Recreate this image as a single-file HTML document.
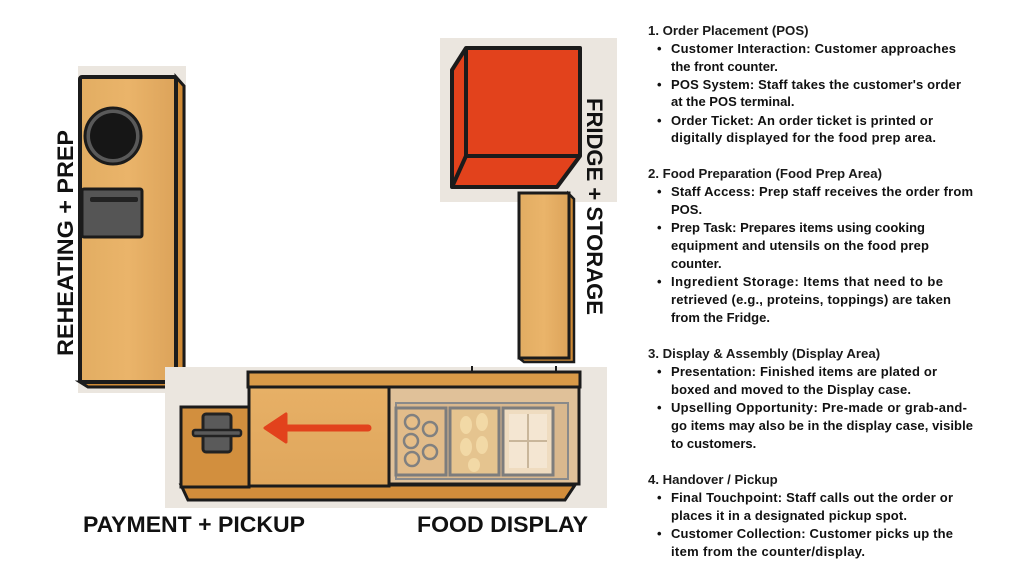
<!DOCTYPE html>
<html><head><meta charset="utf-8"><style>
html,body{margin:0;padding:0;background:#fff;}
svg{display:block;}
text{font-family:"Liberation Sans",sans-serif;fill:#111;}
.h{font-size:13.2px;font-weight:bold;fill:#1a1a1a;}
.b{font-size:13px;font-weight:bold;}
.lbl{font-size:22.5px;font-weight:bold;}
</style></head><body>
<svg width="1024" height="576" viewBox="0 0 1024 576" xmlns="http://www.w3.org/2000/svg">
<defs>
<linearGradient id="wood" x1="0" x2="1" y1="0" y2="0">
<stop offset="0" stop-color="#e2ad62"/><stop offset="0.5" stop-color="#eab46a"/><stop offset="1" stop-color="#dca35a"/>
</linearGradient>
<linearGradient id="woodh" x1="0" x2="0" y1="0" y2="1">
<stop offset="0" stop-color="#e7b066"/><stop offset="1" stop-color="#dfa65c"/>
</linearGradient>
</defs>
<!-- left cabinet -->
<rect x="78" y="66" width="108" height="327" fill="#ebe6df"/>
<polygon points="176,77 184,86 184,387 176,387" fill="#cf8a35" stroke="#1b1b1b" stroke-width="3"/>
<polygon points="80,382 176,382 184,387 88,387" fill="#cf8a35" stroke="#1b1b1b" stroke-width="3"/>
<rect x="80" y="77" width="96" height="305" fill="url(#wood)" stroke="#1b1b1b" stroke-width="4" rx="2"/>
<circle cx="113" cy="136" r="28" fill="#595959" stroke="#1b1b1b" stroke-width="3"/>
<circle cx="113" cy="136" r="23" fill="#161616"/>
<rect x="82" y="189" width="60" height="48" fill="#555" stroke="#1b1b1b" stroke-width="3" rx="2"/>
<rect x="90" y="197" width="48" height="5" fill="#222" rx="2"/>
<text class="lbl" transform="translate(73,356) rotate(-90)" textLength="226" lengthAdjust="spacingAndGlyphs">REHEATING + PREP</text>
<!-- fridge -->
<rect x="440" y="38" width="177" height="164" fill="#ebe6df"/>
<polygon points="466,48 580,48 580,156 557,187 452,187 452,70" fill="#e2421c" stroke="#1b1b1b" stroke-width="4" stroke-linejoin="round"/>
<polyline points="466,48 466,156 580,156" fill="none" stroke="#1b1b1b" stroke-width="4"/>
<line x1="466" y1="156" x2="452" y2="187" stroke="#1b1b1b" stroke-width="4"/>
<text class="lbl" transform="translate(587,98) rotate(90)" textLength="217" lengthAdjust="spacingAndGlyphs">FRIDGE + STORAGE</text>
<!-- fridge storage wood -->
<polygon points="568,193 574,199 574,362 524,362 519,358" fill="#cf8a35" stroke="#1b1b1b" stroke-width="2.5"/>
<rect x="519" y="193" width="50" height="165" fill="url(#wood)" stroke="#1b1b1b" stroke-width="3"/>
<!-- bottom counter -->
<rect x="165" y="367" width="442" height="141" fill="#ebe6df"/>
<rect x="248" y="372" width="332" height="15" fill="#d99a48" stroke="#1b1b1b" stroke-width="3"/>
<line x1="472" y1="366" x2="472" y2="372" stroke="#1b1b1b" stroke-width="2"/>
<line x1="556" y1="366" x2="556" y2="372" stroke="#1b1b1b" stroke-width="2"/>
<polygon points="181,485 575,485 565,500 188,500" fill="#d28d3b" stroke="#1b1b1b" stroke-width="3"/>
<rect x="181" y="407" width="68" height="80" fill="#d28f3e" stroke="#1b1b1b" stroke-width="3"/>
<rect x="249" y="387" width="140" height="99" fill="url(#woodh)" stroke="#1b1b1b" stroke-width="3"/>
<rect x="389" y="387" width="190" height="97" fill="#e0c199" stroke="#1b1b1b" stroke-width="3"/>
<rect x="396" y="403" width="172" height="76" fill="#d9b88e" stroke="#8a8a8a" stroke-width="2"/>
<rect x="396" y="408" width="50" height="67" fill="#e2bc8a" stroke="#7d7d7d" stroke-width="3"/>
<rect x="450" y="408" width="49" height="67" fill="#e5c48f" stroke="#7d7d7d" stroke-width="3"/>
<rect x="503" y="408" width="50" height="67" fill="#efdcc0" stroke="#7d7d7d" stroke-width="3"/>
<g fill="#e6be88" stroke="#808080" stroke-width="2.5">
<circle cx="412" cy="422" r="7"/><circle cx="430" cy="429" r="7"/><circle cx="411" cy="441" r="7"/><circle cx="412" cy="459" r="7"/><circle cx="430" cy="452" r="7"/>
</g>
<g fill="#f2d9a6"><ellipse cx="466" cy="425" rx="6" ry="9"/><ellipse cx="482" cy="422" rx="6" ry="9"/><ellipse cx="466" cy="447" rx="6" ry="9"/><ellipse cx="482" cy="445" rx="6" ry="9"/><ellipse cx="474" cy="465" rx="6" ry="7"/></g>
<rect x="509" y="414" width="38" height="54" fill="#f4e6d2"/>
<line x1="528" y1="414" x2="528" y2="468" stroke="#c9b69a" stroke-width="2"/>
<line x1="509" y1="441" x2="547" y2="441" stroke="#c9b69a" stroke-width="2"/>
<!-- POS -->
<rect x="203" y="414" width="28" height="38" fill="#5a5a5a" stroke="#222" stroke-width="3" rx="3"/>
<rect x="193" y="430" width="48" height="6" fill="#5a5a5a" stroke="#222" stroke-width="2.5" rx="2"/>
<!-- arrow -->
<line x1="368" y1="428" x2="285" y2="428" stroke="#e2421c" stroke-width="7" stroke-linecap="round"/>
<polygon points="265,428 286,414 286,442" fill="#e2421c" stroke="#e2421c" stroke-width="3" stroke-linejoin="round"/>
<text class="lbl" x="83" y="532" textLength="222" lengthAdjust="spacingAndGlyphs">PAYMENT + PICKUP</text>
<text class="lbl" x="417" y="532" textLength="171" lengthAdjust="spacingAndGlyphs">FOOD DISPLAY</text>
<!-- text -->
<g>
<text class="h" x="648" y="35">1. Order Placement (POS)</text>
<text class="b" x="657" y="53">•</text><text class="b" x="671" y="53" textLength="285">Customer Interaction: Customer approaches</text>
<text class="b" x="671" y="71">the front counter.</text>
<text class="b" x="657" y="89">•</text><text class="b" x="671" y="89" textLength="290">POS System: Staff takes the customer's order</text>
<text class="b" x="671" y="106">at the POS terminal.</text>
<text class="b" x="657" y="125">•</text><text class="b" x="671" y="125" textLength="262">Order Ticket: An order ticket is printed or</text>
<text class="b" x="671" y="142" textLength="265">digitally displayed for the food prep area.</text>

<text class="h" x="648" y="178">2. Food Preparation (Food Prep Area)</text>
<text class="b" x="657" y="196">•</text><text class="b" x="671" y="196" textLength="302">Staff Access: Prep staff receives the order from</text>
<text class="b" x="671" y="214">POS.</text>
<text class="b" x="657" y="232">•</text><text class="b" x="671" y="232" textLength="254">Prep Task: Prepares items using cooking</text>
<text class="b" x="671" y="250" textLength="258">equipment and utensils on the food prep</text>
<text class="b" x="671" y="268">counter.</text>
<text class="b" x="657" y="286">•</text><text class="b" x="671" y="286" textLength="272">Ingredient Storage: Items that need to be</text>
<text class="b" x="671" y="304" textLength="280">retrieved (e.g., proteins, toppings) are taken</text>
<text class="b" x="671" y="322">from the Fridge.</text>

<text class="h" x="648" y="358">3. Display &amp; Assembly (Display Area)</text>
<text class="b" x="657" y="376">•</text><text class="b" x="671" y="376" textLength="266">Presentation: Finished items are plated or</text>
<text class="b" x="671" y="394" textLength="240">boxed and moved to the Display case.</text>
<text class="b" x="657" y="412">•</text><text class="b" x="671" y="412" textLength="296">Upselling Opportunity: Pre-made or grab-and-</text>
<text class="b" x="671" y="430" textLength="302">go items may also be in the display case, visible</text>
<text class="b" x="671" y="448">to customers.</text>

<text class="h" x="648" y="484">4. Handover / Pickup</text>
<text class="b" x="657" y="502">•</text><text class="b" x="671" y="502" textLength="282">Final Touchpoint: Staff calls out the order or</text>
<text class="b" x="671" y="520" textLength="236">places it in a designated pickup spot.</text>
<text class="b" x="657" y="538">•</text><text class="b" x="671" y="538" textLength="282">Customer Collection: Customer picks up the</text>
<text class="b" x="671" y="556" textLength="194">item from the counter/display.</text>
</g>
</svg>
</body></html>
